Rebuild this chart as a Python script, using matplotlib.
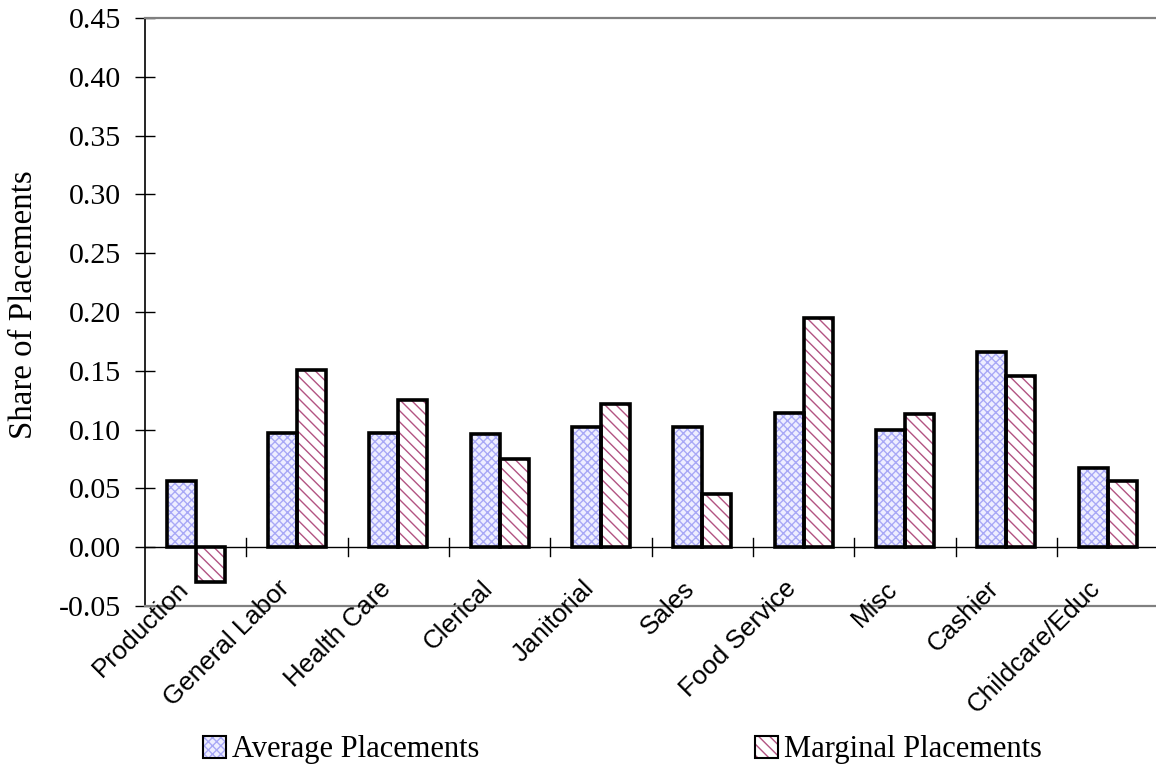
import numpy as np
import matplotlib
matplotlib.use("Agg")
import matplotlib.pyplot as plt
from matplotlib.patches import Patch
from matplotlib.legend_handler import HandlerTuple

categories = ["Production", "General Labor", "Health Care", "Clerical", "Janitorial",
              "Sales", "Food Service", "Misc", "Cashier", "Childcare/Educ"]
average = [0.056, 0.097, 0.097, 0.096, 0.102, 0.102, 0.114, 0.100, 0.166, 0.067]
marginal = [-0.030, 0.151, 0.125, 0.075, 0.122, 0.045, 0.195, 0.113, 0.146, 0.056]
yticks = [-0.05, 0.00, 0.05, 0.10, 0.15, 0.20, 0.25, 0.30, 0.35, 0.40, 0.45]

SERIF = "Liberation Serif"
SANS = "Liberation Sans"
AVG_FACE, AVG_HATCH = "#eeeeff", "#a8a8f6"
MRG_FACE, MRG_HATCH = "white", "#b25482"

plt.rcParams["hatch.linewidth"] = 1.0

fig = plt.figure(figsize=(11.56, 7.74), dpi=100)
ax = fig.add_axes([145 / 1156, 1 - 606 / 774, 1013.4 / 1156, 588 / 774])

x = np.arange(len(categories))
w = 0.286

def hatched_bars(xpos, vals, face, hcol, hatch):
    # hatch drawn in its own colour, black outline drawn on top
    ax.bar(xpos, vals, w, color=face, edgecolor=hcol, hatch=hatch, linewidth=0, zorder=2)
    ax.bar(xpos, vals, w, fill=False, edgecolor="black", linewidth=2.6, zorder=3)

hatched_bars(x - w / 2, average, AVG_FACE, AVG_HATCH, "xxxx")
hatched_bars(x + w / 2, marginal, MRG_FACE, MRG_HATCH, "\\\\\\")

ax.set_xlim(-0.5, len(categories) - 0.5)
ax.set_ylim(-0.05, 0.45)
ax.set_yticks(yticks)
ax.set_yticklabels([f"{v:.2f}" for v in yticks], fontfamily=SERIF, fontsize=21.5)
ax.tick_params(axis="y", direction="inout", length=14, width=1, pad=10)

# category ticks sit on the zero line between groups
ax.set_xticks([])
ax.axhline(0, color="black", linewidth=1, zorder=1)
for b in np.arange(0.5, len(categories) - 0.5, 1.0):
    ax.plot([b, b], [-0.0075, 0.0075], color="black", linewidth=1, zorder=1)

for xi, name in zip(x, categories):
    ax.text(xi - 0.11, -0.032, name, rotation=45, rotation_mode="anchor",
            ha="right", va="center", fontfamily=SANS, fontsize=18.7)

for side in ("top", "bottom"):
    ax.spines[side].set_color("#808080")
    ax.spines[side].set_linewidth(1.6)
ax.spines["right"].set_visible(False)
ax.spines["left"].set_color("black")
ax.spines["left"].set_linewidth(1.2)

ax.set_ylabel("Share of Placements", fontfamily=SERIF, fontsize=23.7)
ax.yaxis.set_label_coords(-0.1045, 0.512)

def legend_handle(face, hcol, hatch):
    return (Patch(facecolor=face, edgecolor=hcol, hatch=hatch, linewidth=0),
            Patch(fill=False, edgecolor="black", linewidth=1.5))

for label, handle, xa in [
    ("Average Placements", legend_handle(AVG_FACE, AVG_HATCH, "xxxx"), 203 / 1156),
    ("Marginal Placements", legend_handle(MRG_FACE, MRG_HATCH, "\\\\\\"), 755 / 1156),
]:
    fig.legend([handle], [label], loc="center left", bbox_to_anchor=(xa, 1 - 750 / 774),
               frameon=False, prop={"family": SERIF, "size": 22},
               handler_map={tuple: HandlerTuple(ndivide=1)},
               handlelength=0.75, handleheight=0.75, handletextpad=0.2,
               borderpad=0, borderaxespad=0)

fig.savefig("out.png", dpi=100)
